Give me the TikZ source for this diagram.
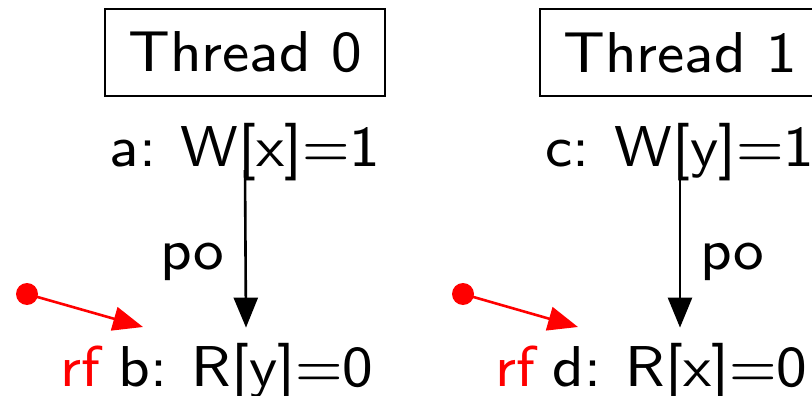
\documentclass[tikz,border=0pt]{standalone}
\usetikzlibrary{arrows.meta}
\newcommand\BTxt[1]{\scalebox{7.2}{\fontsize{8}{9.6}\selectfont\sffamily #1}}
\tikzset{
  tbox/.style={draw, line width=2pt, minimum width=280pt, minimum height=87pt, inner sep=0pt},
  ev/.style={inner sep=0pt, anchor=base},
  rflab/.style={inner sep=0pt, anchor=base west, text=red},
  dotn/.style={circle, fill=red, minimum size=22pt, inner sep=0pt},
  poarr/.style={line width=2.6pt, -{Triangle[length=30pt,width=24pt]}},
  rfarr/.style={red, line width=2.6pt, -{Triangle[length=30pt,width=24pt]}},
  polab/.style={inner sep=0pt, anchor=base west}
}
\begin{document}
\begin{tikzpicture}[x=1pt,y=-1pt]
\useasboundingbox (0,0) rectangle (812,396);
\clip (0,0) rectangle (812,396);
% Thread 0
\node[tbox] (t0) at (245,52.5) {\BTxt{Thread 0}};
\node[ev] (a) at (245,166) {\BTxt{a:\hspace{3.4pt}W[x]=1}};
\node[ev] (b) at (246,386) {\BTxt{b:\hspace{3.4pt}R[y]=0}};
\draw[poarr] ([yshift=-4pt]a.base) -- ([yshift=15pt]b.north);
\node[polab] (po0) at (160,269) {\BTxt{po}};
\node[rflab] (rf0) at (60,386) {\BTxt{rf}};
\node[dotn] (p0) at (27,294) {};
\coordinate (bt) at (143,327);
\draw[rfarr] (p0.center) -- (bt);
% Thread 1
\node[tbox] (t1) at (680,52.5) {\BTxt{Thread 1}};
\node[ev] (c) at (680,166) {\BTxt{c:\hspace{3.4pt}W[y]=1}};
\node[ev] (d) at (680,386) {\BTxt{d:\hspace{3.4pt}R[x]=0}};
\draw[poarr] ([yshift=-4pt]c.base) -- ([yshift=15pt]d.north);
\node[polab] (po1) at (700,269) {\BTxt{po}};
\node[rflab] (rf1) at (495,386) {\BTxt{rf}};
\node[dotn] (p1) at (463,294) {};
\coordinate (dt) at (578,327);
\draw[rfarr] (p1.center) -- (dt);
\end{tikzpicture}
\end{document}
